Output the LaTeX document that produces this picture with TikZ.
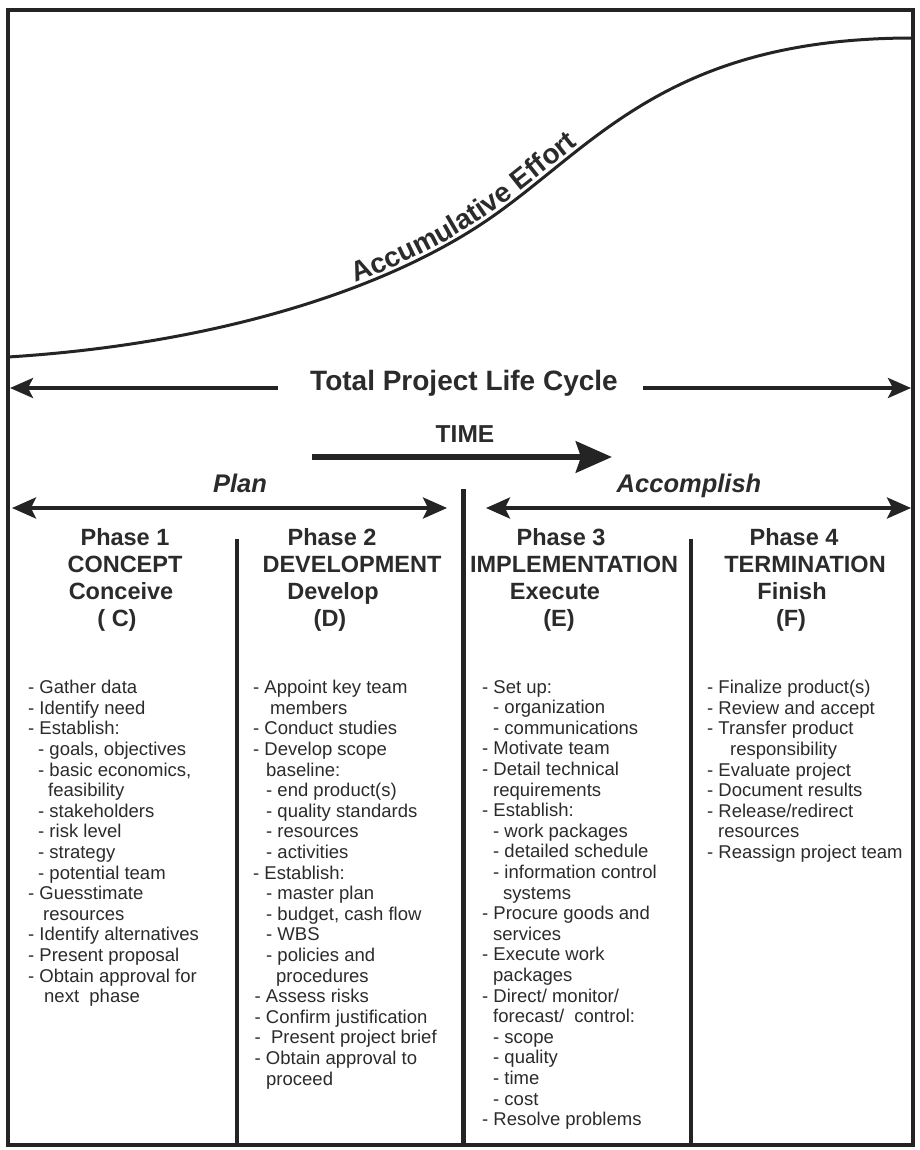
\documentclass[tikz,border=0pt]{standalone}
\usepackage{fontspec}
\setmainfont{Liberation Sans}
\usetikzlibrary{arrows.meta,decorations.text}

\definecolor{ink}{HTML}{242424}
\definecolor{txt}{HTML}{2B2B2B}
\newcommand\effortfont{\bfseries\fontsize{28}{30}\selectfont}

\tikzset{
  frame/.style={draw=ink, line width=4.5pt, line join=miter},
  divider/.style={draw=ink, line width=4.5pt},
  maindivider/.style={draw=ink, line width=5pt},
  effort/.style={draw=ink, line width=3pt},
  head/.style={Stealth[length=23pt, width=20pt, inset=5pt]},
  span/.style={draw=ink, line width=3.5pt, -{Stealth[length=23pt, width=20pt, inset=5pt]}},
  bothspan/.style={draw=ink, line width=3.5pt, {Stealth[length=24pt, width=21pt, inset=5pt]}-{Stealth[length=24pt, width=21pt, inset=5pt]}},
  timearrow/.style={draw=ink, line width=6.5pt, -{Stealth[length=36pt, width=31pt, inset=5pt]}},
  title/.style={text=txt, inner sep=0pt, anchor=base, font=\bfseries\fontsize{28}{30}\selectfont},
  timelabel/.style={text=txt, inner sep=0pt, anchor=base, font=\bfseries\fontsize{24.5}{27}\selectfont},
  band/.style={text=txt, inner sep=0pt, anchor=base, font=\bfseries\itshape\fontsize{25.5}{28}\selectfont},
  heading/.style={text=txt, inner sep=0pt, anchor=base, font=\bfseries\fontsize{23.5}{27}\selectfont},
  tasks/.style={text=txt, inner sep=0pt, align=left, anchor=north west, font=\fontsize{18.5}{20.6}\selectfont},
}
\newcommand\ind[1]{\hspace*{#1pt}}

\begin{document}
\begin{tikzpicture}[x=1pt, y=-1pt]
  % page
  \fill[white] (0,0) rectangle (919,1150);
  \useasboundingbox (0,0) rectangle (919,1150);

  % outer frame
  \coordinate (nw) at (8,10);
  \coordinate (se) at (913,1145);
  \draw[frame] (nw) rectangle (se);

  % cumulative effort S-curve
  \coordinate (e0) at (8,357);
  \coordinate (e1) at (480,225);
  \coordinate (e2) at (913,38);
  \draw[effort, postaction={decorate, decoration={text along path, text align=center,
        raise=4pt, text color=txt, text={|\effortfont|Accumulative Effort}}}]
    (e0) .. controls (200,345) and (370,297) .. (e1)
         .. controls (590,153) and (660,38) .. (e2);

  % total life cycle
  \node[title] (total) at (464,390) {Total Project Life Cycle};
  \coordinate (tlA) at (278,388);
  \coordinate (tlB) at (10,388);
  \coordinate (trA) at (643,388);
  \coordinate (trB) at (911,388);
  \draw[span] (tlA) -- (tlB);
  \draw[span] (trA) -- (trB);

  % time
  \node[timelabel] (time) at (465,442) {TIME};
  \coordinate (tA) at (312,457);
  \coordinate (tB) at (612,457);
  \draw[timearrow] (tA) -- (tB);

  % plan / accomplish
  \node[band] (plan) at (240,492) {Plan};
  \node[band] (acc) at (689,492) {Accomplish};
  \coordinate (pA) at (12,508);
  \coordinate (pB) at (447,508);
  \coordinate (aA) at (486,508);
  \coordinate (aB) at (911,508);
  \draw[bothspan] (pA) -- (pB);
  \draw[bothspan] (aA) -- (aB);

  % dividers
  \coordinate (m0) at (463,489);
  \coordinate (m1) at (463,1145);
  \draw[maindivider] (m0) -- (m1);
  \coordinate (d1a) at (237,539);
  \coordinate (d1b) at (237,1145);
  \coordinate (d3a) at (691,539);
  \coordinate (d3b) at (691,1145);
  \draw[divider] (d1a) -- (d1b);
  \draw[divider] (d3a) -- (d3b);

  % phase headings
  \node[heading] (c1) at (125,545) {Phase 1};
  \node[heading] (c2) at (125,572) {CONCEPT};
  \node[heading] (c3) at (121,599) {Conceive};
  \node[heading] (c4) at (117,626) {( C)};

  \node[heading] (d1) at (332,545) {Phase 2};
  \node[heading] (d2) at (352,572) {DEVELOPMENT};
  \node[heading] (d3) at (333,599) {Develop};
  \node[heading] (d4) at (330,626) {(D)};

  \node[heading] (i1) at (561,545) {Phase 3};
  \node[heading] (i2) at (574,572) {IMPLEMENTATION};
  \node[heading] (i3) at (555,599) {Execute};
  \node[heading] (i4) at (559,626) {(E)};

  \node[heading] (f1) at (794,545) {Phase 4};
  \node[heading] (f2) at (805,572) {TERMINATION};
  \node[heading] (f3) at (792,599) {Finish};
  \node[heading] (f4) at (791,626) {(F)};

  % task lists
  \node[tasks] (concept) at (28,680) {%
    - Gather data\\
    - Identify need\\
    - Establish:\\
    \ind{10}- goals, objectives\\
    \ind{10}- basic economics,\\
    \ind{20}feasibility\\
    \ind{10}- stakeholders\\
    \ind{10}- risk level\\
    \ind{10}- strategy\\
    \ind{10}- potential team\\
    - Guesstimate\\
    \ind{15}resources\\
    - Identify alternatives\\
    - Present proposal\\
    - Obtain approval for\\
    \ind{16}next\ \ phase};

  \node[tasks] (develop) at (253,680) {%
    - Appoint key team\\
    \ind{17}members\\
    - Conduct studies\\
    - Develop scope\\
    \ind{13}baseline:\\
    \ind{13}- end product(s)\\
    \ind{13}- quality standards\\
    \ind{13}- resources\\
    \ind{13}- activities\\
    - Establish:\\
    \ind{13}- master plan\\
    \ind{13}- budget, cash flow\\
    \ind{13}- WBS\\
    \ind{13}- policies and\\
    \ind{23}procedures\\
    \ind{1.5}- Assess risks\\
    \ind{1.5}- Confirm justification\\
    \ind{1.5}-\ \ Present project brief\\
    \ind{1.5}- Obtain approval to\\
    \ind{13}proceed};

  \node[tasks] (execute) at (482,680) {%
    - Set up:\\
    \ind{11}- organization\\
    \ind{11}- communications\\
    - Motivate team\\
    - Detail technical\\
    \ind{11}requirements\\
    - Establish:\\
    \ind{11}- work packages\\
    \ind{11}- detailed schedule\\
    \ind{11}- information control\\
    \ind{21}systems\\
    - Procure goods and\\
    \ind{11}services\\
    - Execute work\\
    \ind{11}packages\\
    - Direct/ monitor/\\
    \ind{11}forecast/\ \ control:\\
    \ind{11}- scope\\
    \ind{11}- quality\\
    \ind{11}- time\\
    \ind{11}- cost\\
    - Resolve problems};

  \node[tasks] (finish) at (707,680) {%
    - Finalize product(s)\\
    - Review and accept\\
    - Transfer product\\
    \ind{23}responsibility\\
    - Evaluate project\\
    - Document results\\
    - Release/redirect\\
    \ind{11}resources\\
    - Reassign project team};
\end{tikzpicture}
\end{document}
